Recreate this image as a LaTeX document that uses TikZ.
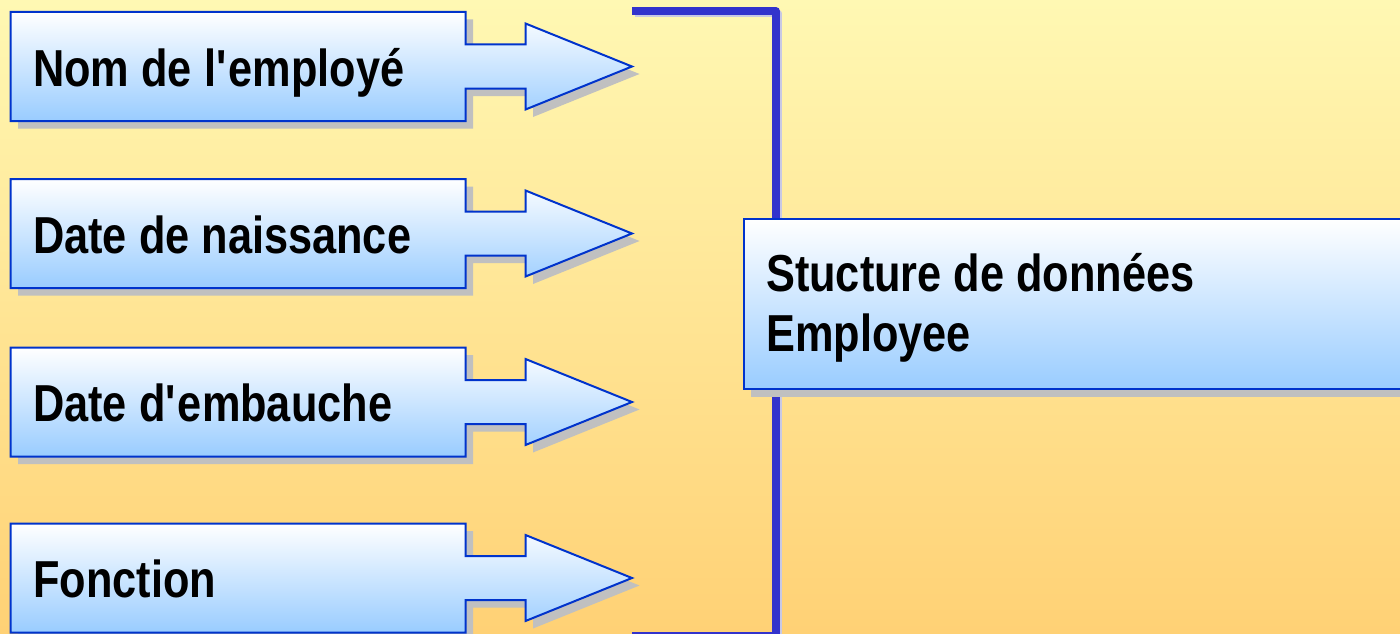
\documentclass[tikz,border=0pt]{standalone}
\usepackage{fontspec}
\newfontfamily\fieldfont{Liberation Sans}[FakeStretch=0.833]
\usepackage{tikz}
\usetikzlibrary{shadows}
\definecolor{boxline}{HTML}{0033CC}
\definecolor{bracketblue}{HTML}{3333CC}
\definecolor{bracketshade}{HTML}{C8C8E4}
\definecolor{boxshadow}{HTML}{C0C0C0}
\definecolor{boxlow}{HTML}{99CCFF}
\definecolor{bgtop}{HTML}{FFF8B3}
\definecolor{bgbottom}{HTML}{FFD175}
\tikzset{
  fieldbox/.style={draw=boxline, line width=2pt, top color=white, bottom color=boxlow,
    drop shadow={shadow xshift=7.5pt, shadow yshift=-7.5pt, fill=boxshadow, opacity=1}},
  fieldtext/.style={anchor=base west, inner sep=0pt, text=black,
    font=\fieldfont\bfseries\fontsize{52}{60}\selectfont},
  bracketline/.style={line width=7.5pt, line join=round, color=bracketblue}
}

\begin{document}
\begin{tikzpicture}[x=1pt,y=-1pt]
    \useasboundingbox (0,0) rectangle (1400,634);
    \shade[top color=bgtop, bottom color=bgbottom] (0,0) rectangle (1400,634);
    % bracket
    \coordinate (btop) at (632,11);
    \coordinate (bcorner) at (776,11);
    \coordinate (bfoot) at (776,636);
    \coordinate (bend) at (632,636);
    \draw[bracketline, color=bracketshade, transform canvas={shift={(2.5pt,-2.5pt)}}] (btop) -- (bcorner) -- (bfoot) -- (bend);
    \draw[bracketline] (btop) -- (bcorner) -- (bfoot) -- (bend);
    % fields
    \foreach \c/\name/\txt in {66.5/nom/Nom de l\textquotesingle employé,
                               233.5/naissance/Date de naissance,
                               402/embauche/Date d\textquotesingle embauche,
                               578/fonction/Fonction} {
        \draw[fieldbox] (10.5,\c-54.5) -- (465.5,\c-54.5) -- (465.5,\c-22) -- (525.5,\c-22)
            -- (525.5,\c-43) -- (632,\c) -- (525.5,\c+43) -- (525.5,\c+22) -- (465.5,\c+22)
            -- (465.5,\c+54.5) -- (10.5,\c+54.5) -- cycle;
        \node[fieldtext] (\name) at (33,\c+19.5) {\txt};
    }
    % structure
    \draw[fieldbox] (743.5,219) rectangle (1420,389);
    \node[fieldtext] (struct) at (766,291.7) {Stucture de données};
    \node[fieldtext] (employee) at (766,351.7) {Employee};
\end{tikzpicture}
\end{document}
